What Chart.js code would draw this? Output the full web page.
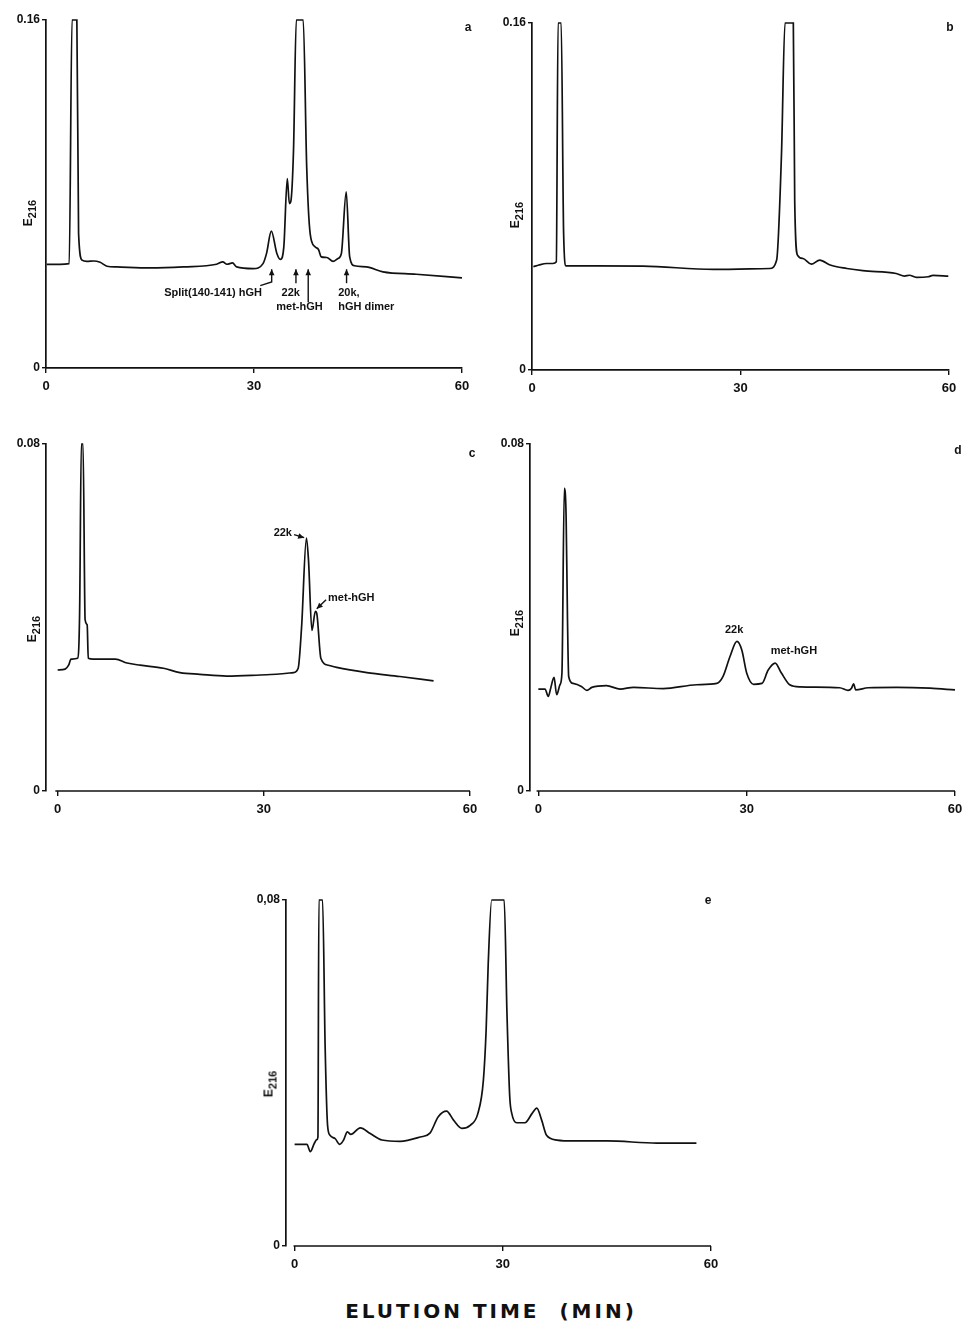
<!DOCTYPE html>
<html><head><meta charset="utf-8">
<script src="https://cdn.jsdelivr.net/npm/chart.js@4/dist/chart.umd.min.js"></script>
<style>
html,body{margin:0;padding:0;background:#fff}
body{width:963px;height:1329px;position:relative;overflow:hidden;font-family:"Liberation Sans",Arial,sans-serif;color:#111}
canvas{position:absolute}
.letter{position:absolute;font-weight:bold;font-size:12px;transform:translate(-50%,-50%)}
.ylab{position:absolute;font-weight:bold;font-size:12px;white-space:nowrap;transform:translate(-50%,-50%) rotate(-90deg)}
.ylab sub{font-size:11px;vertical-align:-4px}
.title{position:absolute;left:491px;top:1311px;transform:translate(-50%,-50%);font-family:"DejaVu Sans",sans-serif;font-weight:bold;font-size:20px;letter-spacing:3px;white-space:nowrap}
</style></head><body>

<canvas id="ca"></canvas><canvas id="cb"></canvas><canvas id="cc"></canvas><canvas id="cd"></canvas><canvas id="ce"></canvas>

<div class="letter" style="left:468px;top:27px">a</div>
<div class="letter" style="left:950px;top:27px">b</div>
<div class="letter" style="left:472px;top:453px">c</div>
<div class="letter" style="left:958px;top:450px">d</div>
<div class="letter" style="left:708px;top:900px">e</div>

<div class="ylab" style="left:29px;top:213px">E<sub>216</sub></div>
<div class="ylab" style="left:516px;top:215px">E<sub>216</sub></div>
<div class="ylab" style="left:33px;top:629px">E<sub>216</sub></div>
<div class="ylab" style="left:516px;top:623px">E<sub>216</sub></div>
<div class="ylab" style="left:270px;top:1084px">E<sub>216</sub></div>

<div class="title">ELUTION TIME&nbsp;&nbsp;(MIN)</div>

<script>
// ---------- data (elution time in min, absorbance E216) ----------
const xTickValues = [0, 30, 60];
const xTickLabels = ['0', '30', '60'];
const yTickLabelsA = ['0', '0.16'];
const yTickLabelsB = ['0', '0.16'];
const yTickLabelsC = ['0', '0.08'];
const yTickLabelsD = ['0', '0.08'];
const yTickLabelsE = ['0', '0,08'];

const timeA = [0.1,3.35,3.75,4.1,4.45,4.7,5.2,5.9,6.9,7.8,8.8,10.2,15,19.8,24.6,25.5,26.1,26.9,27.5,29.9,31.3,31.8,32.5,33.3,33.8,34.3,34.8,35.1,35.3,35.7,36.1,37.1,37.6,38.1,38.8,39.3,39.7,40.5,41.4,42.1,42.6,43.3,43.8,44.5,46.2,48.6,53.4,60];
const valueA = [0.0476,0.048,0.16,0.16,0.16,0.0618,0.0496,0.049,0.0492,0.0486,0.0468,0.0465,0.046,0.0465,0.0477,0.0488,0.0477,0.0483,0.0465,0.0457,0.048,0.0526,0.0629,0.0526,0.0499,0.0557,0.0871,0.0756,0.0764,0.1002,0.16,0.16,0.0925,0.0618,0.0557,0.0545,0.0511,0.0508,0.049,0.0503,0.0526,0.081,0.0511,0.047,0.0465,0.0442,0.0431,0.0414];

const timeB = [0.2,1,2.1,3,3.5,3.75,4.2,4.55,4.9,9.3,16,26.1,34.2,35.2,35.9,36.4,37.6,37.8,38.2,39,40.2,41.4,42.9,45.3,47.6,52.4,53.6,54.3,55.3,57,57.7,59.9];
const valueB = [0.0476,0.0484,0.0491,0.0491,0.0499,0.16,0.16,0.063,0.048,0.048,0.0479,0.0464,0.0468,0.0507,0.0998,0.16,0.16,0.078,0.053,0.0514,0.0488,0.0507,0.0484,0.0468,0.0458,0.0445,0.0433,0.0437,0.0427,0.043,0.0436,0.0433];

const timeC = [0,1.1,1.6,1.95,2.9,3.2,3.45,3.7,4.0,4.3,4.46,5.2,8.4,10.1,12,15.4,17.8,20.7,24.6,30.4,34.3,35,35.5,36.2,36.5,37,37.5,37.7,38.3,39.4,40.6,45,49.8,54.7];
const valueC = [0.0279,0.0281,0.029,0.0304,0.0306,0.041,0.08,0.08,0.0395,0.0383,0.0306,0.0304,0.0304,0.0295,0.029,0.0283,0.0273,0.0269,0.0265,0.0268,0.0273,0.0283,0.0379,0.0583,0.0533,0.037,0.0414,0.041,0.0306,0.029,0.0285,0.0273,0.0264,0.0254];

const timeD = [0,0.96,1.44,1.78,2.26,2.64,3.12,3.4,3.74,4.0,4.2,4.37,5.0,6.2,7,7.7,9.8,11.8,13.7,18,22.8,25.7,26.6,27.6,28.6,29.3,30,31,32.2,33.1,34.1,35,36.2,37.7,43.4,44.6,45.1,45.4,45.7,47.5,51.6,56.4,60];
const valueD = [0.0235,0.0235,0.0218,0.0237,0.0262,0.0222,0.0245,0.0272,0.0698,0.0633,0.0395,0.0264,0.0248,0.0241,0.0232,0.0239,0.0243,0.0235,0.0239,0.0236,0.0245,0.0248,0.0264,0.031,0.0345,0.0325,0.0272,0.0246,0.0248,0.0279,0.0295,0.0272,0.0245,0.024,0.0238,0.0232,0.0237,0.0247,0.0233,0.0238,0.0239,0.0237,0.0233];

const timeE = [0,1.78,2.26,2.83,3.2,3.36,3.5,4.03,4.4,4.75,5.1,5.86,6.5,7.06,7.6,8.1,9.46,10.9,12.6,15.2,18.1,19.5,20.7,21.9,22.9,24.1,25.3,26.4,27.2,27.6,27.9,28.4,30.2,30.6,31.0,31.3,32,33.2,34.2,34.9,35.6,36.3,37.8,40.2,45,52.2,57.9];
const valueE = [0.0235,0.0235,0.0218,0.0237,0.0246,0.0252,0.08,0.08,0.046,0.0279,0.0256,0.0248,0.0235,0.0245,0.0264,0.0258,0.0273,0.026,0.0245,0.0242,0.0252,0.0261,0.0299,0.0312,0.0291,0.0272,0.0279,0.0306,0.0383,0.05,0.0653,0.08,0.08,0.0538,0.0345,0.0306,0.0285,0.0285,0.0306,0.0319,0.0291,0.0256,0.0245,0.0243,0.0243,0.0238,0.0238];

// ---------- annotation plugin (drawn in data coordinates) ----------
const INK = '#111111';
const annotate = {
  id: 'annotate',
  afterDatasetsDraw(chart, args, opts) {
    const {ctx, scales: {x, y}} = chart;
    ctx.save();
    ctx.strokeStyle = INK; ctx.fillStyle = INK;
    if (opts.xLineFrom !== undefined) {
      ctx.lineWidth = 1.7;
      ctx.beginPath();
      ctx.moveTo(x.getPixelForValue(opts.xLineFrom), y.getPixelForValue(0));
      ctx.lineTo(x.getPixelForValue(60), y.getPixelForValue(0));
      ctx.stroke();
    }
    ctx.lineWidth = 1.4;
    (opts.arrows || []).forEach(a => {
      const pts = a.map(p => [x.getPixelForValue(p[0]), y.getPixelForValue(p[1])]);
      ctx.beginPath();
      ctx.moveTo(pts[0][0], pts[0][1]);
      for (let i = 1; i < pts.length; i++) ctx.lineTo(pts[i][0], pts[i][1]);
      ctx.stroke();
      const dx = pts[0][0] - pts[1][0], dy = pts[0][1] - pts[1][1];
      const len = Math.hypot(dx, dy) || 1, ux = dx / len, uy = dy / len;
      const hl = 6, hw = 2.8;
      ctx.beginPath();
      ctx.moveTo(pts[0][0], pts[0][1]);
      ctx.lineTo(pts[0][0] - ux * hl - uy * hw, pts[0][1] - uy * hl + ux * hw);
      ctx.lineTo(pts[0][0] - ux * hl + uy * hw, pts[0][1] - uy * hl - ux * hw);
      ctx.closePath();
      ctx.fill();
    });
    ctx.font = 'bold 11px "Liberation Sans", Arial, sans-serif';
    ctx.textBaseline = 'middle';
    (opts.texts || []).forEach(t => {
      ctx.textAlign = t.align;
      ctx.fillText(t.text, x.getPixelForValue(t.t), y.getPixelForValue(t.v));
    });
    ctx.restore();
  }
};

function makePanel(id, box, times, values, yMax, yLabels, xMin, ann) {
  const cv = document.getElementById(id);
  const W = box.R - box.L + 70, H = box.B - box.T + 50;
  cv.width = W; cv.height = H;
  cv.style.left = (box.L - 50) + 'px';
  cv.style.top = (box.T - 15) + 'px';
  cv.style.width = W + 'px'; cv.style.height = H + 'px';
  const pts = times.map((t, i) => ({x: t, y: values[i]}));
  const tickFont = {family: '"Liberation Sans", Arial, sans-serif', size: 12, weight: 'bold'};
  return new Chart(cv, {
    type: 'line',
    data: {datasets: [{data: pts, borderColor: INK, borderWidth: 1.7, pointRadius: 0,
      cubicInterpolationMode: 'monotone', fill: false, clip: false}]},
    options: {
      responsive: false, animation: false, devicePixelRatio: 1,
      layout: {padding: {left: 0, top: 15, right: 20, bottom: 0}},
      plugins: {legend: {display: false}, tooltip: {enabled: false}, annotate: ann},
      scales: {
        x: {
          type: 'linear', min: xMin, max: 60,
          afterFit: s => { s.height = 35; },
          afterBuildTicks: s => { s.ticks = xTickValues.map(v => ({value: v})); },
          ticks: {autoSkip: false, maxRotation: 0, padding: 6, color: INK,
            font: {family: '"Liberation Sans", Arial, sans-serif', size: 13, weight: 'bold'},
            callback: (v, i) => xTickLabels[i]},
          grid: {display: true, drawOnChartArea: false, drawTicks: true, tickLength: 5, color: INK, lineWidth: 1.4},
          border: {display: ann.xLineFrom === undefined, color: INK, width: 1.7}
        },
        y: {
          type: 'linear', min: 0, max: yMax,
          afterFit: s => { s.width = 50; },
          afterBuildTicks: s => { s.ticks = [{value: 0}, {value: yMax}]; },
          ticks: {autoSkip: false, padding: 2, color: INK, font: tickFont,
            callback: (v, i) => yLabels[i]},
          grid: {display: true, drawOnChartArea: false, drawTicks: true, tickLength: 4, color: INK, lineWidth: 1.4},
          border: {display: true, color: INK, width: 1.7}
        }
      }
    },
    plugins: [annotate]
  });
}

makePanel('ca', {L: 46, T: 20, R: 462, B: 368}, timeA, valueA, 0.16, yTickLabelsA, 0, {
  arrows: [
    [[32.55, 0.0454], [32.55, 0.0396], [30.9, 0.0379]],
    [[36.05, 0.0454], [36.05, 0.0390]],
    [[37.82, 0.0454], [37.82, 0.0302]],
    [[43.35, 0.0454], [43.35, 0.0390]]
  ],
  texts: [
    {text: 'Split(140-141) hGH', t: 31.15, v: 0.0344, align: 'right'},
    {text: '22k', t: 35.3, v: 0.0344, align: 'center'},
    {text: 'met-hGH', t: 36.56, v: 0.0279, align: 'center'},
    {text: '20k,', t: 42.14, v: 0.0344, align: 'left'},
    {text: 'hGH dimer', t: 42.14, v: 0.0279, align: 'left'}
  ]
});
makePanel('cb', {L: 532, T: 23, R: 949, B: 370}, timeB, valueB, 0.16, yTickLabelsB, 0, {});
makePanel('cc', {L: 46, T: 444, R: 470, B: 791}, timeC, valueC, 0.08, yTickLabelsC, -1.69, {
  xLineFrom: -0.33,
  arrows: [
    [[35.87, 0.0584], [34.4, 0.0591]],
    [[37.7, 0.0420], [39.06, 0.0441]]
  ],
  texts: [
    {text: '22k', t: 34.1, v: 0.0595, align: 'right'},
    {text: 'met-hGH', t: 39.35, v: 0.0446, align: 'left'}
  ]
});
makePanel('cd', {L: 530, T: 444, R: 955, B: 791}, timeD, valueD, 0.08, yTickLabelsD, -1.2, {
  xLineFrom: -0.25,
  texts: [
    {text: '22k', t: 28.2, v: 0.0372, align: 'center'},
    {text: 'met-hGH', t: 36.8, v: 0.0323, align: 'center'}
  ]
});
makePanel('ce', {L: 286, T: 900, R: 711, B: 1246}, timeE, valueE, 0.08, yTickLabelsE, -1.24, {
  xLineFrom: -0.15
});
</script>
</body></html>
